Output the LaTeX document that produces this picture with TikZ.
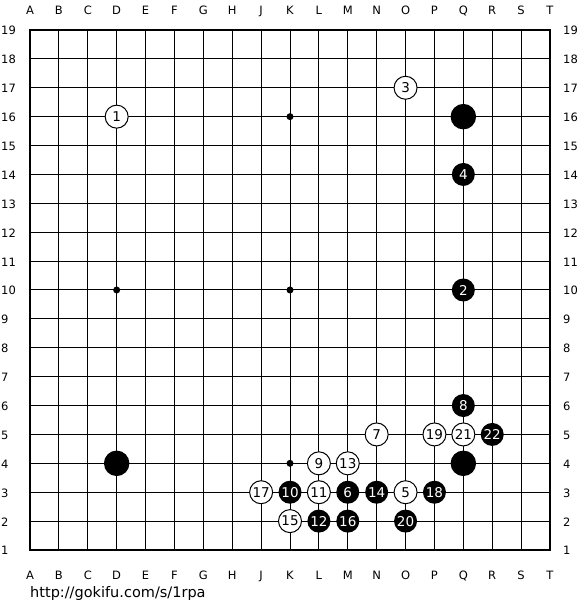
\documentclass[tikz,border=0pt]{standalone}
\usepackage{fontspec}
\setmainfont{DejaVu Sans}

\begin{document}
\begin{tikzpicture}[x = 28.8889pt, y = 28.8889pt,
    coord/.style = {font = \fontsize{11.5}{11.5}\selectfont, inner sep = 0pt},
    white stone/.style = {shape = circle, draw, line width = 1pt, fill = white,
        minimum size = 23pt, inner sep = 0pt, font = \fontsize{13.5}{13.5}\selectfont},
    black stone/.style = {shape = circle, fill = black, text = white,
        minimum size = 23pt, inner sep = 0pt, font = \fontsize{13.5}{13.5}\selectfont},
    handicap/.style = {shape = circle, fill = black, minimum size = 25.5pt, inner sep = 0pt}]
        \useasboundingbox (-0.0385, -1.0769) rectangle (20.0385, 20.0385);
        % board
        \foreach \i in {2,...,18} {
            \draw[line width = 1pt] (\i, 1) -- (\i, 19);
            \draw[line width = 1pt] (1, \i) -- (19, \i);
        }
        \draw[line width = 2pt] (1, 1) rectangle (19, 19);
        \foreach \x in {4, 10, 16}
            \foreach \y in {4, 10, 16}
                \fill (\x, \y) circle (3.5pt);
        % coordinates
        \foreach \c [count = \i] in {A,B,C,D,E,F,G,H,J,K,L,M,N,O,P,Q,R,S,T} {
            \node[coord, anchor = base] (top\c) at (\i, 19.519) {\c};
            \node[coord, anchor = base] (bot\c) at (\i, -0.015) {\c};
        }
        \foreach \r in {1,...,19} {
            \node[coord, anchor = base west] (left\r) at (-0.004, \r - 0.173) {\r};
            \node[coord, anchor = base west] (right\r) at (19.45, \r - 0.173) {\r};
        }
        % stones
        \node[handicap] (q16) at (16, 16) {};
        \node[handicap] (d4) at (4, 4) {};
        \node[handicap] (q4) at (16, 4) {};
        \foreach \n/\x/\y in {1/4/16, 3/14/17, 5/14/3, 7/13/5, 9/11/4, 11/11/3,
                13/12/4, 15/10/2, 17/9/3, 19/15/5, 21/16/5}
            \node[white stone] (m\n) at (\x, \y) {\n};
        \foreach \n/\x/\y in {2/16/10, 4/16/14, 6/12/3, 8/16/6, 10/10/3, 12/11/2,
                14/13/3, 16/12/2, 18/15/3, 20/14/2, 22/17/5}
            \node[black stone] (m\n) at (\x, \y) {\n};
        % source
        \node[anchor = base west, inner sep = 0pt, font = \fontsize{14.5}{14.5}\selectfont]
            (url) at (1, -0.627) {http://gokifu.com/s/1rpa};
\end{tikzpicture}
\end{document}
